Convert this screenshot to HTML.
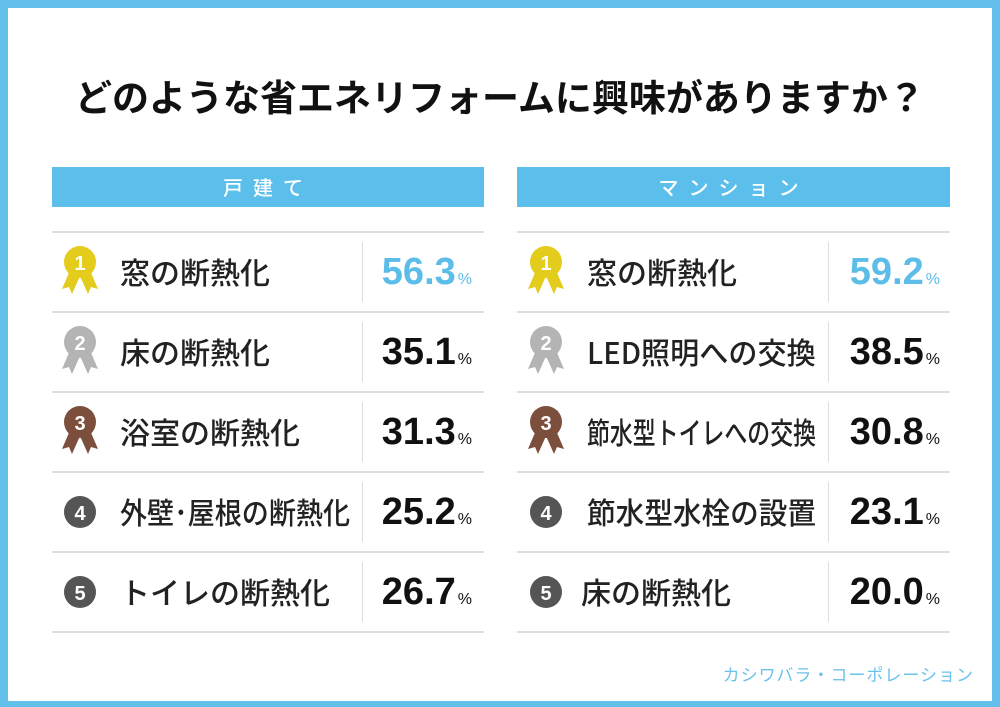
<!DOCTYPE html>
<html><head><meta charset="utf-8"><style>
body{margin:0;width:1000px;height:707px;overflow:hidden;background:#fff;font-family:"Liberation Sans","Noto Sans CJK JP",sans-serif}
#frame{position:absolute;left:0;top:0;width:1000px;height:707px;box-sizing:border-box;border:8px solid #62c0ea;border-bottom-width:6px}
#title{position:absolute;left:0;width:1000px;top:70px;text-align:center;font-size:37px;font-weight:bold;color:#111;font-family:"Noto Sans CJK JP",sans-serif;line-height:50px}
.hdr{position:absolute;top:167px;height:40px;background:#5bbeeb;color:#fff;font-size:20px;line-height:40px;text-align:center;letter-spacing:10px;font-family:"Noto Sans CJK JP",sans-serif;font-weight:500}
.line{position:absolute;height:2px;background:#ddd}
.vline{position:absolute;width:1px;background:#ddd}
.lbl{position:absolute;font-size:30px;color:#222;font-family:"Noto Sans CJK JP",sans-serif;font-weight:500;white-space:nowrap;line-height:34px;transform-origin:0 50%}
.val{position:absolute;text-align:right;font-size:38px;font-weight:bold;color:#111;line-height:40px;white-space:nowrap}
.val span{font-size:16px;font-weight:normal;margin-left:2px}
#credit{position:absolute;right:26px;top:661px;font-size:17px;color:#6cc3ea;letter-spacing:1px;font-family:"Noto Sans CJK JP",sans-serif}
</style></head><body>
<div id="frame"></div>
<div id="title">どのような省エネリフォームに興味がありますか？</div>
<div id="root"></div>
<div id="credit">カシワバラ・コーポレーション</div>
<script>
const houseLabels=["窓の断熱化","床の断熱化","浴室の断熱化","外壁･屋根の断熱化","トイレの断熱化"];
const houseValues=[56.3,35.1,31.3,25.2,26.7];
const mansionLabels=["窓の断熱化","LED照明への交換","節水型トイレへの交換","節水型水栓の設置","床の断熱化"];
const mansionValues=[59.2,38.5,30.8,23.1,20.0];
const panelTitles=["戸建て","マンション"];
const medalColors=["#e3cc1c","#b4b4b4","#7b4f3c","#555","#555"];
const root=document.getElementById('root');
function mk(tag,cls,name){const e=document.createElement(tag);if(cls)e.className=cls;


root.appendChild(e);return e;}
function medal(cx,cy,rank){
 const ns="http://www.w3.org/2000/svg";
 const s=document.createElementNS(ns,'svg');
 
 
 s.setAttribute('width','60');s.setAttribute('height','60');
 s.style.cssText='position:absolute;left:'+(cx-30)+'px;top:'+(cy-30)+'px';
 const c=medalColors[rank-1];let h='';
 if(rank<=3){
  h+='<polygon points="21,26 12,47 19,45 22,52 30,34" fill="'+c+'"/><polygon points="39,26 48,47 41,45 38,52 30,34" fill="'+c+'"/>';
  h+='<circle cx="30" cy="20" r="16" fill="'+c+'"/>';
  h+='<text x="30" y="28" text-anchor="middle" font-size="20" font-weight="bold" fill="#fff" font-family="Liberation Sans">'+rank+'</text>';
 }else{
  h+='<circle cx="30" cy="30" r="16" fill="'+c+'"/><text x="30" y="38" text-anchor="middle" font-size="20" font-weight="bold" fill="#fff" font-family="Liberation Sans">'+rank+'</text>';
 }
 s.innerHTML=h;root.appendChild(s);
}
const panels=[{x:52,w:432,labels:houseLabels,vals:houseValues,medalX:80,lblX:120,divX:362,valR:472},
 {x:517,w:433,labels:mansionLabels,vals:mansionValues,medalX:546,lblX:587,divX:828,valR:940}];
panels.forEach((p,pi)=>{
 const h=mk('div','hdr','panel-header-'+pi);h.style.left=p.x+'px';h.style.width=p.w+'px';h.textContent=panelTitles[pi];
 const top=231,rh=80;
 for(let i=0;i<=p.labels.length;i++){const l=mk('div','line','row-divider');l.style.left=p.x+'px';l.style.width=p.w+'px';l.style.top=(top+i*rh)+'px';}
 p.labels.forEach((lab,i)=>{
  const cy=top+i*rh+41;
  medal(p.medalX,cy,i+1);
  const v=mk('div','vline','value-divider');v.style.left=p.divX+'px';v.style.top=(cy-30)+'px';v.style.height='60px';
  const lx=(pi==1&&i==4?p.lblX-6:p.lblX);
  const t=mk('div','lbl','item-label');t.style.left=lx+'px';t.style.top=(cy-18)+'px';t.textContent=lab;
  const maxW=p.divX-lx-12;const w=t.offsetWidth;
  if(w>maxW)t.style.transform='scaleX('+(maxW/w)+')';
  const val=mk('div','val','item-value');val.style.left=(p.divX)+'px';val.style.width=(p.valR-p.divX)+'px';val.style.top=(cy-20)+'px';
  val.innerHTML=p.vals[i].toFixed(1)+'<span>%</span>';
  if(i==0)val.style.color='#5bbde8';
 });
});
</script>
</body></html>
